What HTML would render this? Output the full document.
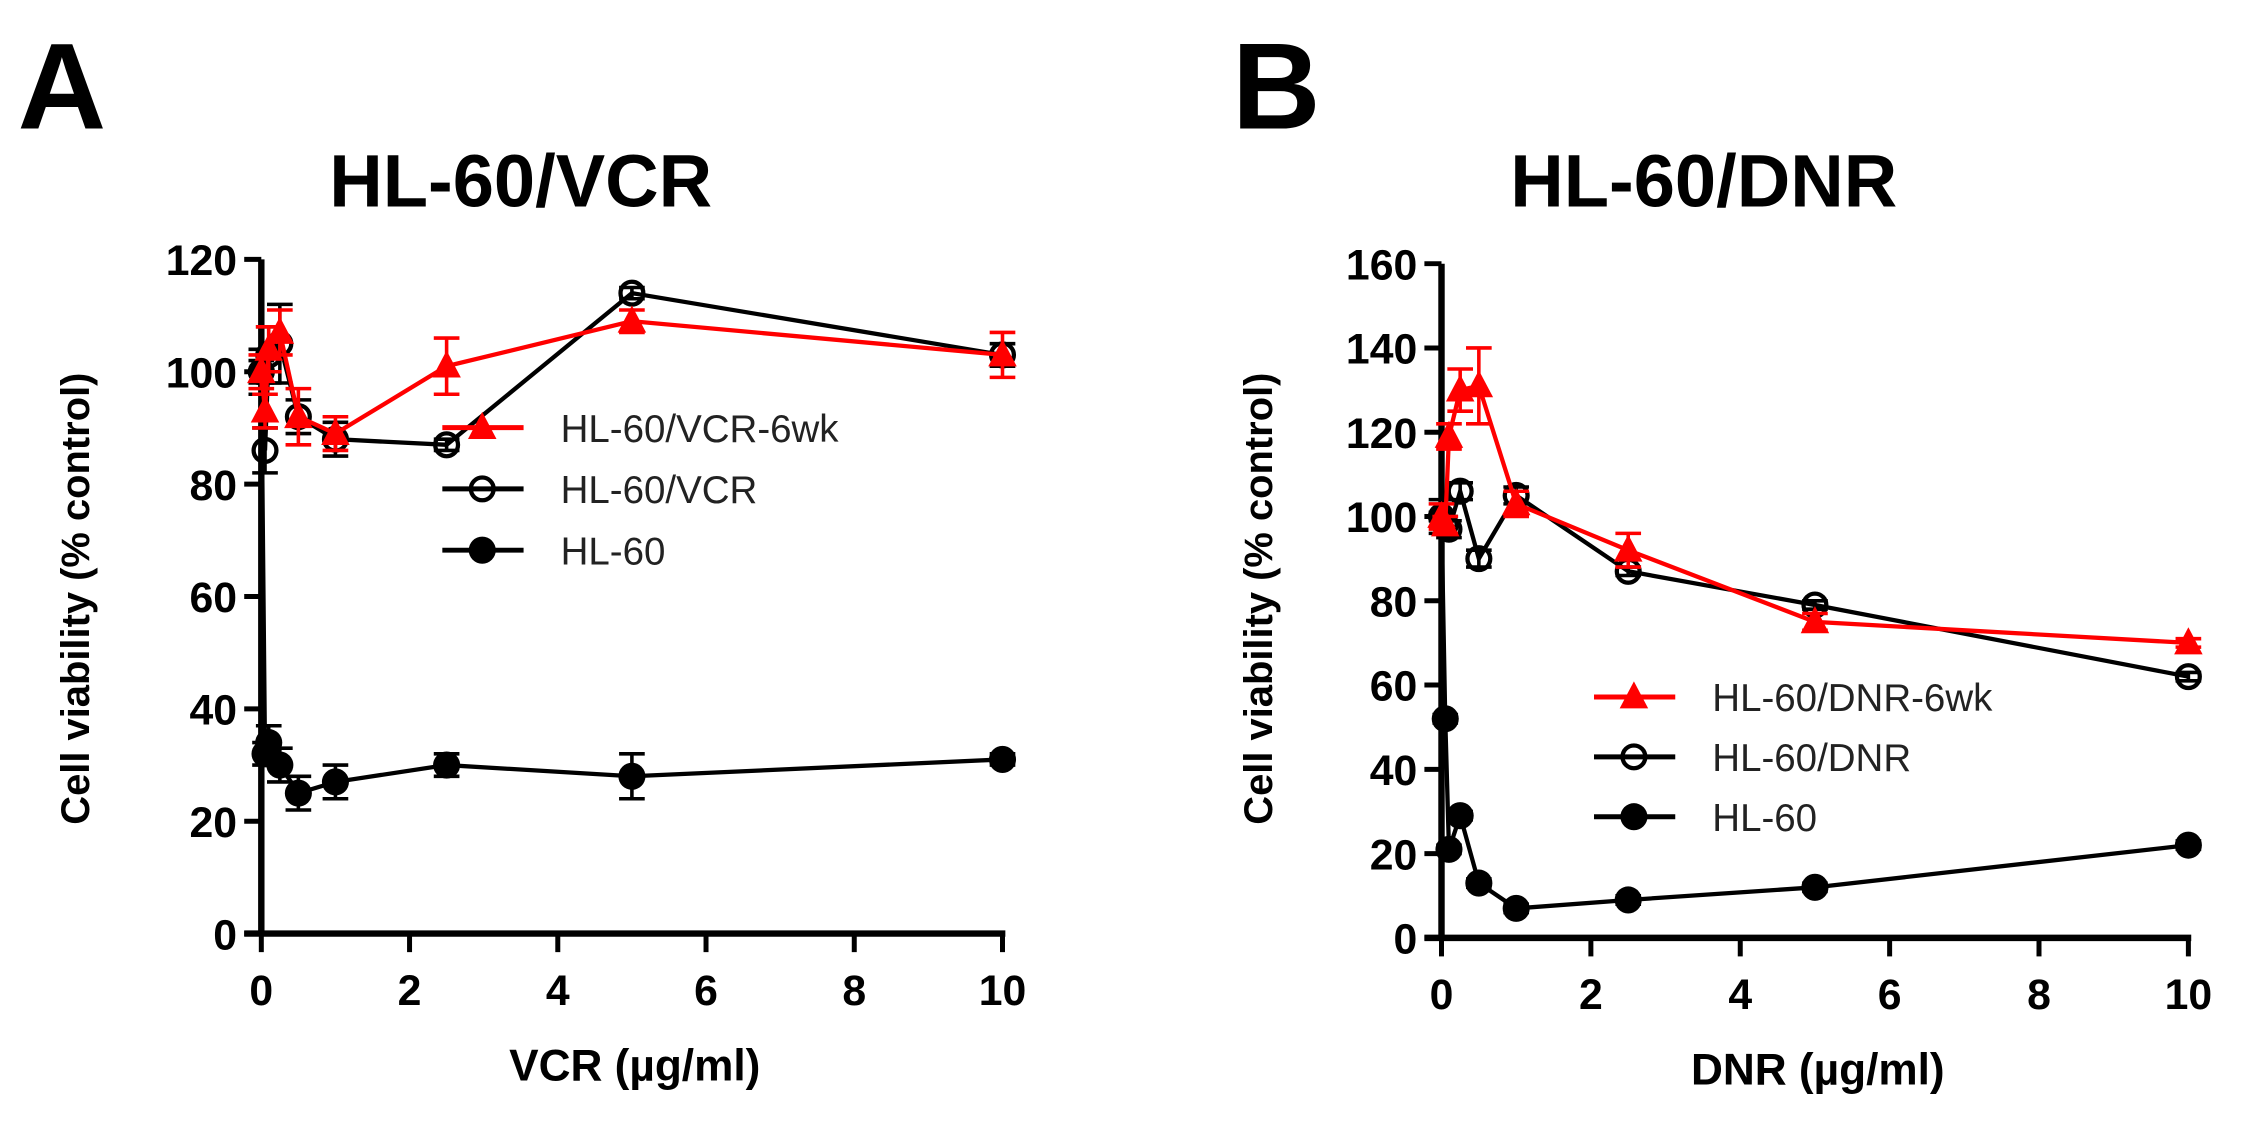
<!DOCTYPE html>
<html><head><meta charset="utf-8"><style>
html,body{margin:0;padding:0;background:#fff;}
svg{display:block;font-family:"Liberation Sans",Arial,sans-serif;}
</style></head><body>
<svg id="fig" width="2253" height="1136" viewBox="0 0 1580 797" xmlns="http://www.w3.org/2000/svg">
<text x="12" y="90" font-size="86" font-weight="bold">A</text>
<text x="864" y="90" font-size="86" font-weight="bold">B</text>
<text x="365" y="145" font-size="52" font-weight="bold" text-anchor="middle">HL-60/VCR</text>
<text x="1195" y="145" font-size="52" font-weight="bold" text-anchor="middle">HL-60/DNR</text>
<g id="ga"></g><g id="gb"></g>
</svg>
<script>
// Panel A data
const xA = [0, 0.05, 0.1, 0.25, 0.5, 1, 2.5, 5, 10];
const aRed = [100, 93, 104, 107, 92, 89, 101, 109, 103];
const aRedErr = [3, 3, 4, 4, 5, 3, 5, 2, 4];
const aOpen = [100, 86, 103, 105, 92, 88, 87, 114, 103];
const aOpenErr = [4, 4, 5, 7, 3, 3, 1, 1, 2];
const aFill = [100, 32, 34, 30, 25, 27, 30, 28, 31];
const aFillErr = [2, 2, 3, 3, 3, 3, 2, 4, 1];
const aYTicks = [0, 20, 40, 60, 80, 100, 120];
const xTicks = [0, 2, 4, 6, 8, 10];
// Panel B data
const xB = [0, 0.05, 0.1, 0.25, 0.5, 1, 2.5, 5, 10];
const bRed = [100, 98, 119, 130, 131, 103, 92, 75, 70];
const bRedErr = [3, 2, 3, 5, 9, 3, 4, 2, 1];
const bOpen = [100, 98, 97, 106, 90, 105, 87, 79, 62];
const bOpenErr = [4, 2, 2, 2, 2, 2, 1, 1, 1];
const bFill = [100, 52, 21, 29, 13, 7, 9, 12, 22];
const bFillErr = [1, 1, 1, 1, 1, 1, 1, 1, 1];
const bYTicks = [0, 20, 40, 60, 80, 100, 120, 140, 160];

const NS = "http://www.w3.org/2000/svg";
function mk(parent, tag, attrs, text) {
  const e = document.createElementNS(NS, tag);
  for (const k in attrs) e.setAttribute(k, attrs[k]);
  if (text !== undefined) e.textContent = text;
  parent.appendChild(e);
  return e;
}
function marker(g, type, cx, cy, color) {
  if (type === "tri") return mk(g, "polygon", {points: `${cx},${cy-11} ${cx-10},${cy+8} ${cx+10},${cy+8}`, fill: color});
  if (type === "open") return mk(g, "circle", {cx: cx, cy: cy, r: 8, fill: "none", stroke: "#000", "stroke-width": 3});
  return mk(g, "circle", {cx: cx, cy: cy, r: 9.5, fill: "#000"});
}
function panel(gid, cfg) {
  const g = document.getElementById(gid);
  const X = v => cfg.x0 + v * (cfg.x1 - cfg.x0) / 10;
  const Y = v => cfg.y0 - v * (cfg.y0 - cfg.yTop) / cfg.ymax;
  const ya = mk(g, "line", {x1: cfg.x0, y1: cfg.y0 + 2, x2: cfg.x0, y2: cfg.yTop, stroke: "#000", "stroke-width": 4.5});
  
  
  const xa = mk(g, "line", {x1: cfg.x0 - 12, y1: cfg.y0, x2: cfg.x1 + 2, y2: cfg.y0, stroke: "#000", "stroke-width": 4.5});
  
  
  cfg.yTicks.forEach(t => {
    mk(g, "line", {x1: cfg.x0 - 12, y1: Y(t), x2: cfg.x0, y2: Y(t), stroke: "#000", "stroke-width": 3.5});
    const lb = mk(g, "text", {x: cfg.x0 - 17, y: Y(t) + 11, "font-size": 30, "font-weight": "bold", "text-anchor": "end"}, t);
    
    
  });
  xTicks.forEach(t => {
    mk(g, "line", {x1: X(t), y1: cfg.y0, x2: X(t), y2: cfg.y0 + 13, stroke: "#000", "stroke-width": 3.5});
    const lb = mk(g, "text", {x: X(t), y: cfg.y0 + 50, "font-size": 30, "font-weight": "bold", "text-anchor": "middle"}, t);
    
    
  });
  const xt = mk(g, "text", {x: cfg.xtX, y: cfg.y0 + 103, "font-size": 31, "font-weight": "bold", "text-anchor": "middle"}, cfg.xTitle);
  
  
  const yt = mk(g, "text", {x: 0, y: 0, "font-size": 28, "font-weight": "bold", "text-anchor": "middle", transform: `translate(${cfg.ytX},${cfg.ytY}) rotate(-90)`}, "Cell viability (% control)");
  
  
  cfg.series.forEach(s => {
    const sg = mk(g, "g", {});
    
    
    const pts = cfg.xs.map((x, i) => `${X(x)},${Y(s.v[i])}`).join(" ");
    mk(sg, "polyline", {points: pts, fill: "none", stroke: s.color, "stroke-width": 3});
    cfg.xs.forEach((x, i) => {
      const cx = X(x), hi = Y(s.v[i] + s.e[i]), lo = Y(s.v[i] - s.e[i]);
      const eb = mk(sg, "path", {d: `M${cx},${hi}V${lo}M${cx-9},${hi}H${cx+9}M${cx-9},${lo}H${cx+9}`, stroke: s.color, "stroke-width": 2.5, fill: "none"});
      
      
      const m = marker(sg, s.type, cx, Y(s.v[i]), s.color);
      
      
    });
  });
  cfg.series.forEach(s => {
    const ly = cfg.legY + s.leg * cfg.legGap;
    const lg = mk(g, "g", {});
    
    
    mk(lg, "line", {x1: cfg.legX, y1: ly, x2: cfg.legX + 57, y2: ly, stroke: s.color, "stroke-width": 3.5});
    marker(lg, s.type, cfg.legX + 28, ly, s.color);
    mk(lg, "text", {x: cfg.legX + 83, y: ly + 10, "font-size": 27, fill: "#222"}, s.label);
  });
}
panel("ga", {x0: 183, x1: 703, y0: 655, yTop: 182, ymax: 120, yTicks: aYTicks, xs: xA,
  xTitle: "VCR (\u00b5g/ml)", xtX: 445, ytX: 62, ytY: 420,
  legX: 310, legY: 300, legGap: 43,
  series: [
    {name: "series-hl60", label: "HL-60", leg: 2, v: aFill, e: aFillErr, color: "#000", type: "fill"},
    {name: "series-hl60-vcr", label: "HL-60/VCR", leg: 1, v: aOpen, e: aOpenErr, color: "#000", type: "open"},
    {name: "series-hl60-vcr-6wk", label: "HL-60/VCR-6wk", leg: 0, v: aRed, e: aRedErr, color: "#ff0000", type: "tri"}
  ]});
panel("gb", {x0: 1011, x1: 1535, y0: 658, yTop: 185, ymax: 160, yTicks: bYTicks, xs: xB,
  xTitle: "DNR (\u00b5g/ml)", xtX: 1275, ytX: 892, ytY: 420,
  legX: 1118, legY: 489, legGap: 42,
  series: [
    {name: "series-hl60", label: "HL-60", leg: 2, v: bFill, e: bFillErr, color: "#000", type: "fill"},
    {name: "series-hl60-dnr", label: "HL-60/DNR", leg: 1, v: bOpen, e: bOpenErr, color: "#000", type: "open"},
    {name: "series-hl60-dnr-6wk", label: "HL-60/DNR-6wk", leg: 0, v: bRed, e: bRedErr, color: "#ff0000", type: "tri"}
  ]});
</script>
</body></html>
